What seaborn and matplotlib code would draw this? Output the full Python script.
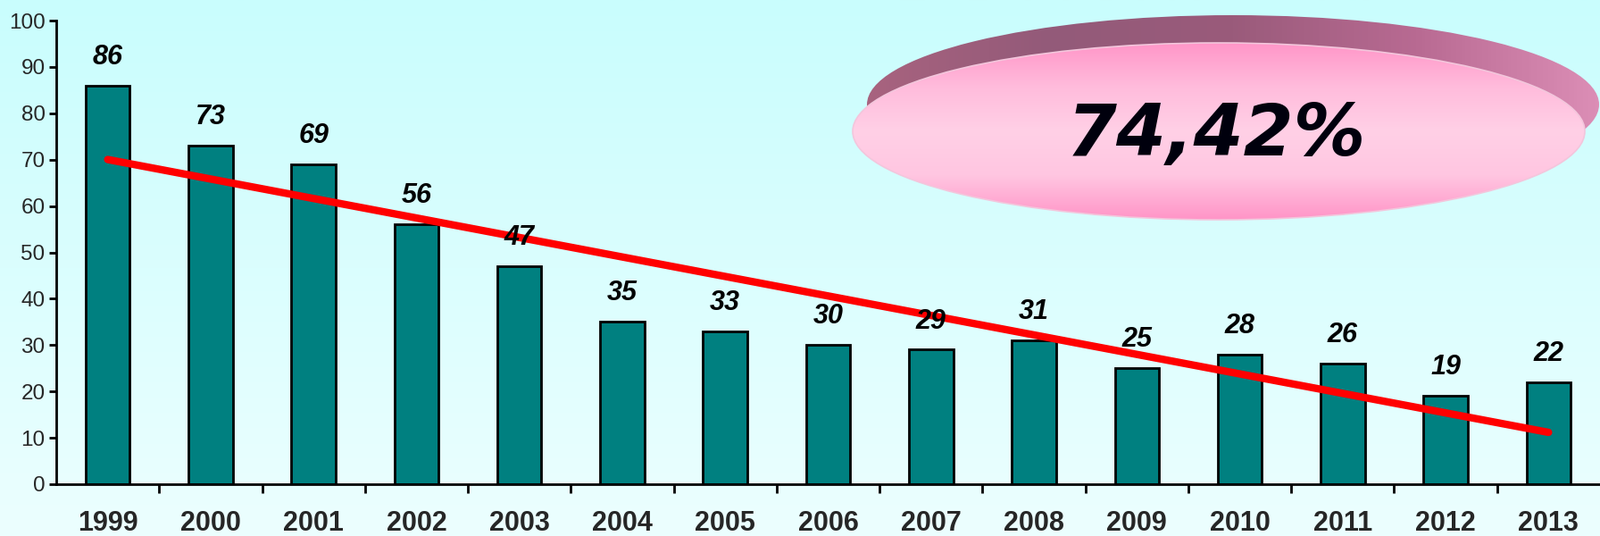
import numpy as np
import pandas as pd
import seaborn as sns
import matplotlib.pyplot as plt
from matplotlib.patches import Ellipse
from matplotlib.colors import LinearSegmentedColormap
from matplotlib.ticker import FixedLocator

years = ['1999', '2000', '2001', '2002', '2003', '2004', '2005', '2006',
         '2007', '2008', '2009', '2010', '2011', '2012', '2013']
counts = [86, 73, 69, 56, 47, 35, 33, 30, 29, 31, 25, 28, 26, 19, 22]
y_ticks = [0, 10, 20, 30, 40, 50, 60, 70, 80, 90, 100]
badge_text = '74,42%'

df = pd.DataFrame({'year': years, 'count': counts})
df['pos'] = np.arange(len(df))

sns.set_style('white')
plt.rcParams['font.family'] = ['Liberation Sans', 'DejaVu Sans']

W, H = 1792, 600
fig = plt.figure(figsize=(W / 100, H / 100), dpi=100)

# background gradient + pink disk badge, drawn in pixel coords
bg = fig.add_axes([0, 0, 1, 1], zorder=0)
bg_cmap = LinearSegmentedColormap.from_list('bg', ['#c9fdfd', '#ecffff'])
bg.imshow(np.linspace(0, 1, 256).reshape(-1, 1), cmap=bg_cmap,
          extent=[0, W, H, 0], aspect='auto')

rim = Ellipse((1381, 117), 820, 200, facecolor='none', edgecolor='none')
bg.add_patch(rim)
rim_cmap = LinearSegmentedColormap.from_list(
    'rim', ['#a8637f', '#935a79', '#9a5b7b', '#b86a92', '#dc8eb6'])
im = bg.imshow(np.linspace(0, 1, 256).reshape(1, -1), cmap=rim_cmap,
               extent=[970, 1792, 217, 17], aspect='auto')
im.set_clip_path(rim)

face = Ellipse((1365, 147), 820, 198, facecolor='none',
               edgecolor='#f3c6dc', lw=1.2)
bg.add_patch(face)
face_cmap = LinearSegmentedColormap.from_list(
    'face', ['#ff96c8', '#ffbcdc', '#ffd0e6', '#ffc6e1', '#ff94c7'])
im2 = bg.imshow(np.linspace(0, 1, 256).reshape(-1, 1), cmap=face_cmap,
                extent=[955, 1775, 246, 48], aspect='auto')
im2.set_clip_path(face)

bg.text(1362, 152, badge_text, fontsize=58, weight='bold', style='italic',
        family=['DejaVu Sans'], color='#00000d', ha='center', va='center')
bg.set_xlim(0, W)
bg.set_ylim(H, 0)
bg.axis('off')

# main chart
ax = fig.add_axes([63 / W, 58 / H, 1 - 63 / W, 519 / H], zorder=1)
ax.patch.set_alpha(0)

sns.barplot(data=df, x='pos', y='count', color='#008080', saturation=1,
            edgecolor='black', linewidth=2, width=0.43, ax=ax)
sns.regplot(data=df, x='pos', y='count', scatter=False, ci=None,
            color='#ff0000',
            line_kws={'lw': 6, 'solid_capstyle': 'round'}, ax=ax)

for p, v in zip(df['pos'], df['count']):
    ax.annotate(str(v), (p, v), xytext=(0, 23), textcoords='offset points',
                ha='center', va='center', fontsize=22, weight='bold',
                style='italic', color='black')

ax.set_xlim(-0.5, len(years) - 0.5)
ax.set_ylim(0, 100)
ax.set_yticks(y_ticks)
ax.set_xticks(df['pos'], years)
ax.xaxis.set_minor_locator(FixedLocator(np.arange(0.5, len(years) - 1, 1)))
ax.set_xlabel('')
ax.set_ylabel('')

ax.tick_params(axis='x', which='major', bottom=True, length=0, pad=21,
               labelsize=22)
ax.tick_params(axis='x', which='minor', bottom=True, length=7, width=2,
               direction='out', color='black')
ax.tick_params(axis='y', left=True, length=6, width=2, direction='out',
               pad=3, labelsize=17.5, color='black')
for lab in ax.get_xticklabels():
    lab.set_fontweight('bold')

sns.despine(ax=ax)
for s in ['left', 'bottom']:
    ax.spines[s].set_linewidth(2)
    ax.spines[s].set_color('black')

fig.savefig('out.png', dpi=100)
